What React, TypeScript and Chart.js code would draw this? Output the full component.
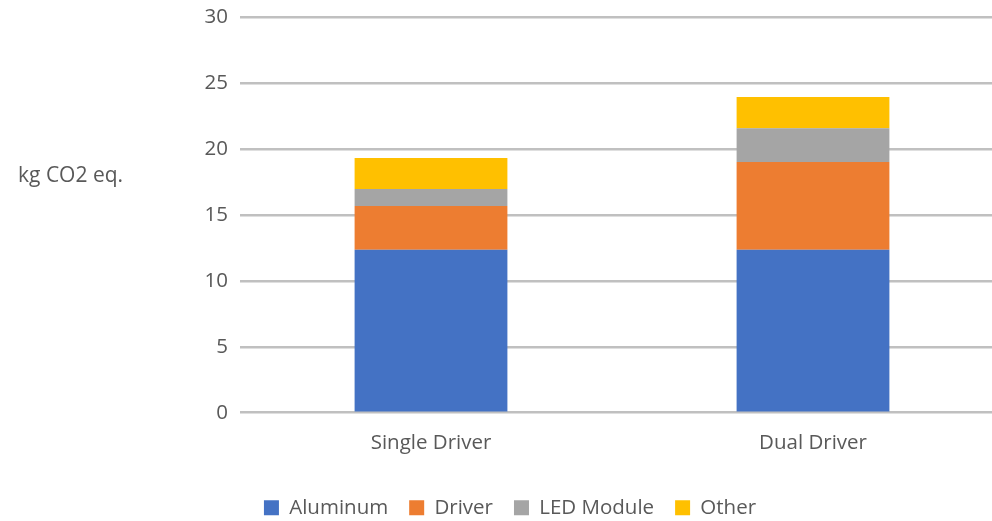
import React, { useEffect, useRef } from "react";
import { Chart, registerables } from "chart.js";

Chart.register(...registerables);

const categories = ["Single Driver", "Dual Driver"];
const aluminum = [12.35, 12.35];
const driver = [3.33, 6.67];
const ledModule = [1.29, 2.55];
const other = [2.35, 2.37];
const yTitle = "kg CO2 eq.";

const FONT = "'Open Sans', 'Noto Sans', sans-serif";
const TEXT = "#595959";
const W = 1004;
const H = 528;

const sideTitle = {
  id: "sideTitle",
  afterDraw(chart: any) {
    const ctx = chart.ctx;
    ctx.save();
    ctx.font = `21px ${FONT}`;
    ctx.fillStyle = TEXT;
    ctx.textAlign = "left";
    ctx.textBaseline = "middle";
    ctx.fillText(yTitle, 18, 176);
    ctx.restore();
  },
};

export default function App() {
  const ref = useRef<HTMLCanvasElement>(null);
  useEffect(() => {
    document.body.style.overflow = "hidden";
    const chart = new Chart(ref.current!, {
      type: "bar",
      data: {
        labels: categories,
        datasets: [
          { label: "Aluminum", data: aluminum, backgroundColor: "#4472C4" },
          { label: "Driver", data: driver, backgroundColor: "#ED7D31" },
          { label: "LED Module", data: ledModule, backgroundColor: "#A5A5A5" },
          { label: "Other", data: other, backgroundColor: "#FFC000" },
        ],
      },
      options: {
        animation: false,
        responsive: false,
        layout: { padding: { left: 16, top: 0, right: 0, bottom: 0 } },
        datasets: { bar: { categoryPercentage: 1, barPercentage: 0.4 } },
        scales: {
          x: {
            stacked: true,
            grid: { display: false },
            border: { display: false },
            ticks: { color: TEXT, font: { family: FONT, size: 20.5 }, padding: 10 },
            afterFit(scale: any) {
              scale.height = 63.8;
            },
          },
          y: {
            stacked: true,
            min: 0,
            max: 30,
            ticks: {
              stepSize: 5,
              color: TEXT,
              font: { family: FONT, size: 20.5, lineHeight: 0.5 },
              padding: 12,
            },
            grid: { color: "#c0c0c0", lineWidth: 2.5, drawTicks: false },
            border: { display: false },
            afterFit(scale: any) {
              scale.width = 224;
            },
          },
        },
        plugins: {
          legend: {
            position: "bottom",
            labels: {
              color: TEXT,
              font: { family: FONT, size: 20.5 },
              boxWidth: 15,
              boxHeight: 15,
              padding: 21,
            },
          },
          tooltip: { enabled: false },
        },
      },
      plugins: [sideTitle],
    });
    return () => chart.destroy();
  }, []);
  return (
    <div style={{ position: "absolute", left: 0, top: 0, width: W, height: H }}>
      <canvas ref={ref} width={W} height={H} />
    </div>
  );
}
